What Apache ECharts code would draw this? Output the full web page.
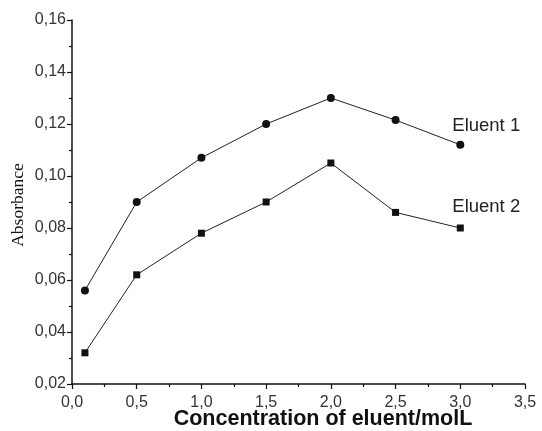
<!DOCTYPE html>
<html>
<head>
<meta charset="utf-8">
<script src="https://cdn.jsdelivr.net/npm/echarts@6/dist/echarts.min.js"></script>
<style>html,body{margin:0;padding:0;background:#fff}#c{width:542px;height:431px}</style>
</head>
<body>
<div id="c"></div>
<script>
var concentrations = [0.1, 0.5, 1.0, 1.5, 2.0, 2.5, 3.0];
var eluent1 = [0.056, 0.090, 0.107, 0.120, 0.130, 0.1215, 0.112];
var eluent2 = [0.032, 0.062, 0.078, 0.090, 0.105, 0.086, 0.080];
var seriesNames = ['Eluent 1', 'Eluent 2'];
var xTitle = 'Concentration of eluent/molL';
var yTitle = 'Absorbance';

function comma(v, d) { return v.toFixed(d).replace('.', ','); }

function build(vals, name, offY) {
  return vals.map(function (v, i) {
    var item = { value: [concentrations[i], v] };
    if (i === vals.length - 1) {
      item.label = {
        show: true, position: 'inside', offset: [-8, offY], align: 'left', verticalAlign: 'middle',
        formatter: name, color: '#222', fontSize: 18.5, fontFamily: 'Liberation Sans, Arial, sans-serif'
      };
    }
    return item;
  });
}

var chart = echarts.init(document.getElementById('c'), null, { renderer: 'canvas' });
var axisCommon = {
  axisLine: { show: true, onZero: false, lineStyle: { color: '#111', width: 1.5 } },
  axisTick: { show: true, inside: false, length: 5, lineStyle: { color: '#111', width: 1.2 } },
  minorTick: { show: true, splitNumber: 2, length: 3, lineStyle: { color: '#111', width: 1.2 } },
  splitLine: { show: false },
  minorSplitLine: { show: false }
};
chart.setOption({
  animation: false,
  backgroundColor: '#fff',
  grid: { left: 72, right: 17, top: 20, bottom: 47 },
  xAxis: Object.assign({
    type: 'value', min: 0, max: 3.5, interval: 0.5,
    axisLabel: { margin: 11, fontSize: 16, color: '#333', fontFamily: 'Liberation Sans, Arial, sans-serif',
      formatter: function (v) { return comma(v, 1); } }
  }, axisCommon),
  yAxis: Object.assign({
    type: 'value', min: 0.02, max: 0.16, interval: 0.02,
    axisLabel: { margin: 6, fontSize: 16, color: '#333', fontFamily: 'Liberation Sans, Arial, sans-serif',
      formatter: function (v) { return comma(v, 2); } }
  }, axisCommon),
  series: [
    { type: 'line', name: seriesNames[0], data: build(eluent1, seriesNames[0], -19),
      symbol: 'circle', symbolSize: 8, lineStyle: { color: '#222', width: 1 },
      itemStyle: { color: '#111' } },
    { type: 'line', name: seriesNames[1], data: build(eluent2, seriesNames[1], -21),
      symbol: 'rect', symbolSize: 7, lineStyle: { color: '#222', width: 1 },
      itemStyle: { color: '#111' } }
  ],
  graphic: [
    { type: 'text', x: 323, y: 419, style: { text: xTitle, textAlign: 'center', textVerticalAlign: 'middle',
      fontSize: 21.5, fontWeight: 'bold', fill: '#111', fontFamily: 'Liberation Sans, Arial, sans-serif' } },
    { type: 'text', x: 18, y: 205, rotation: Math.PI / 2, style: { text: yTitle, textAlign: 'center', textVerticalAlign: 'middle',
      fontSize: 17.5, fill: '#111', fontFamily: 'Liberation Serif, Times New Roman, serif' } }
  ]
});
</script>
</body>
</html>
